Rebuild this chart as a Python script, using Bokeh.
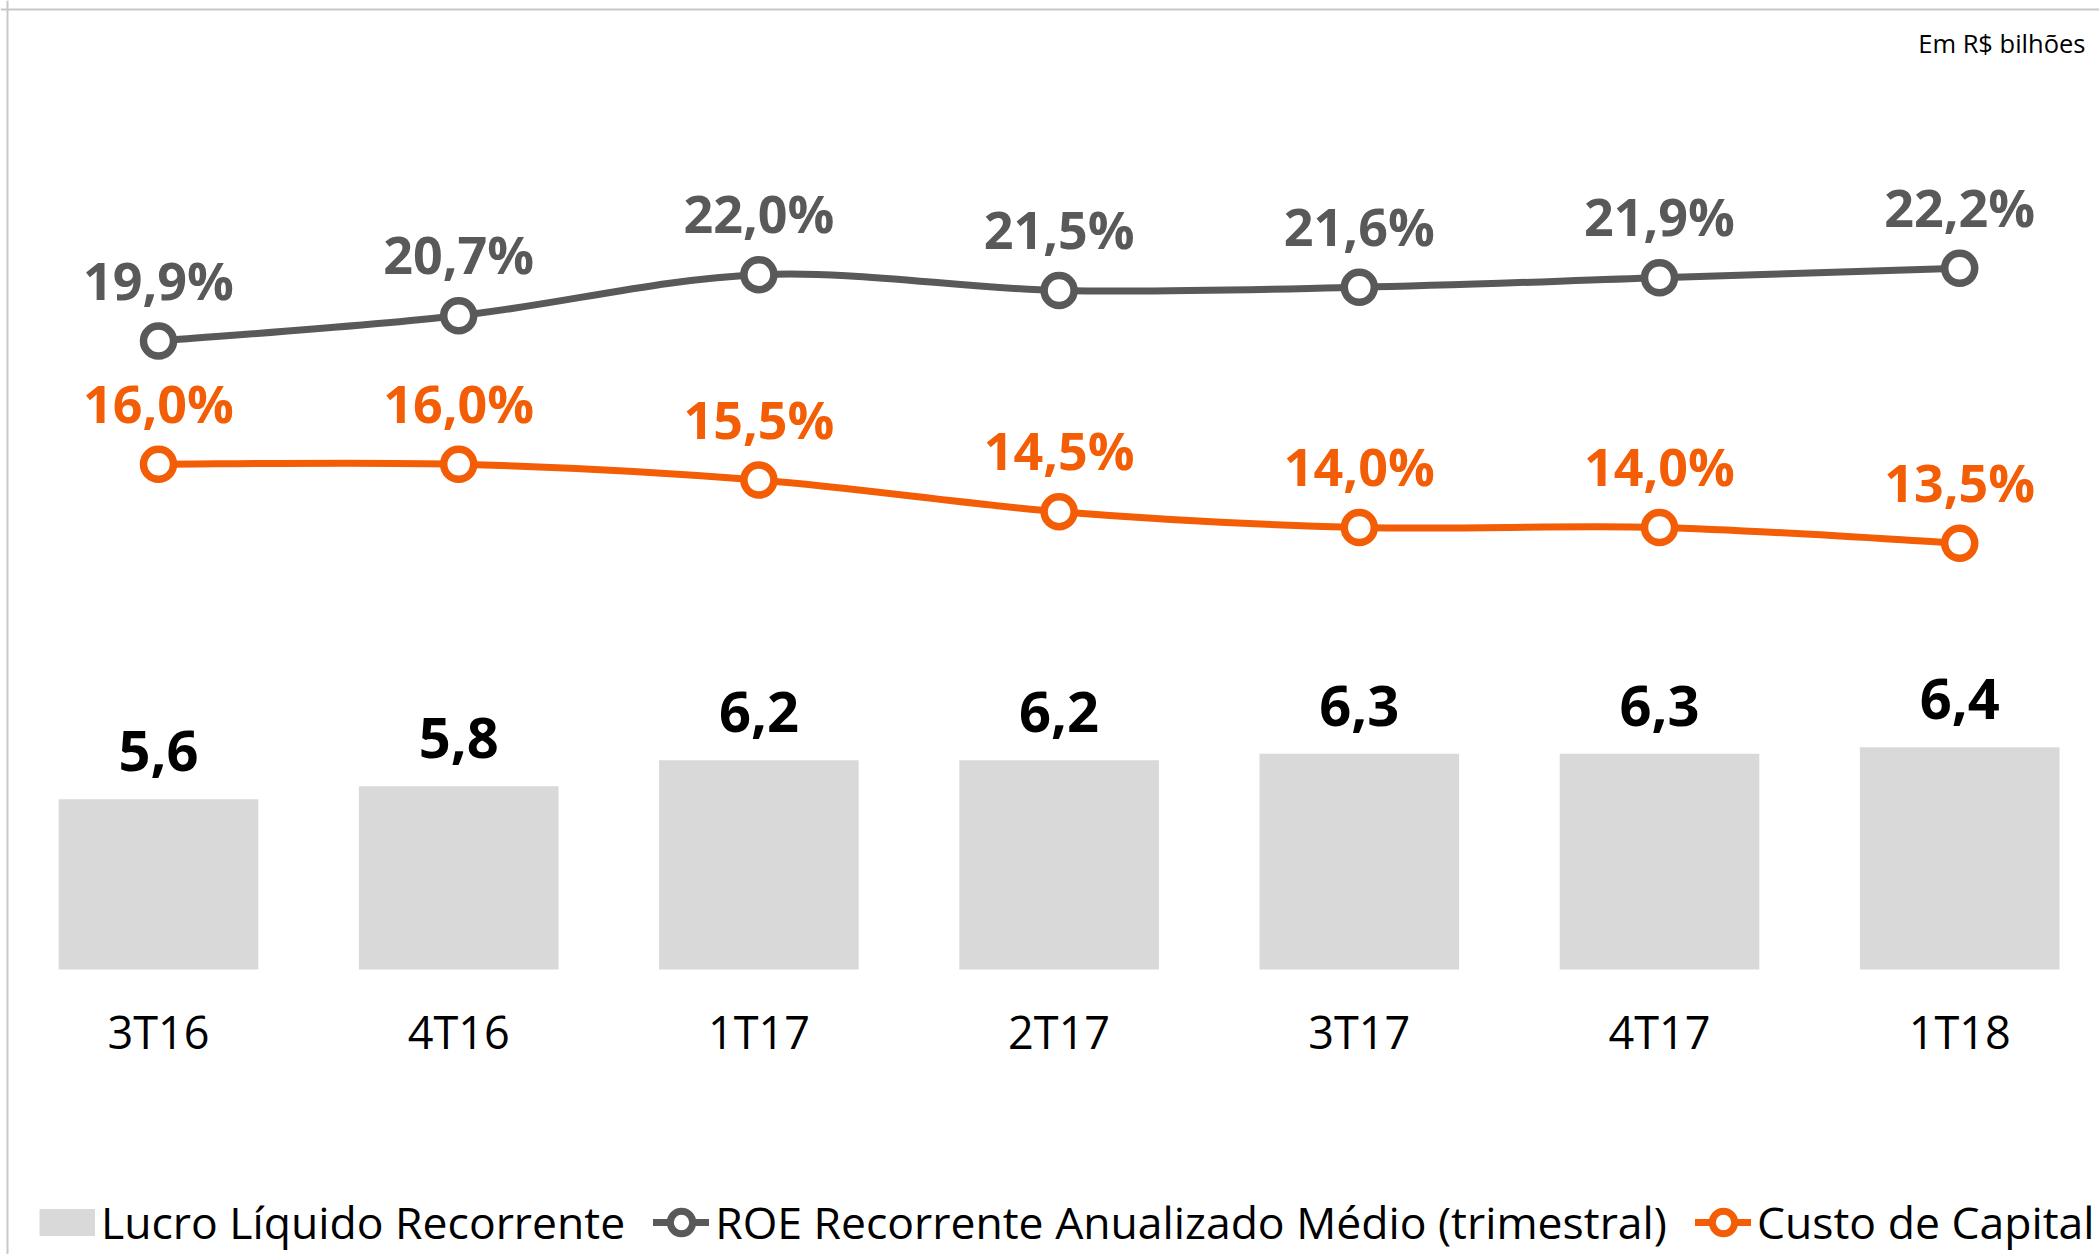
import numpy as np
from bokeh.plotting import figure
from bokeh.models import Range1d, Span, Label, Legend, LegendItem, ColumnDataSource
from bokeh.core.properties import value
from bokeh.embed import file_html
from bokeh.resources import INLINE

# ---------------- data ----------------
categories = ["3T16", "4T16", "1T17", "2T17", "3T17", "4T17", "1T18"]
lucro = [5.6, 5.8, 6.2, 6.2, 6.3, 6.3, 6.4]
lucro_labels = ["5,6", "5,8", "6,2", "6,2", "6,3", "6,3", "6,4"]
roe = [19.9, 20.7, 22.0, 21.5, 21.6, 21.9, 22.2]
roe_labels = ["19,9%", "20,7%", "22,0%", "21,5%", "21,6%", "21,9%", "22,2%"]
custo = [16.0, 16.0, 15.5, 14.5, 14.0, 14.0, 13.5]
custo_labels = ["16,0%", "16,0%", "15,5%", "14,5%", "14,0%", "14,0%", "13,5%"]
legend_labels = ["Lucro Líquido Recorrente",
                 "ROE Recorrente Anualizado Médio (trimestral)",
                 "Custo de Capital"]
unit_note = "Em R$ bilhões"

# ---------------- styles / layout ----------------
GRAY = "#595959"
ORANGE = "#F35D05"
BAR = "#D9D9D9"
BORDER = "#C8C8C8"
FONT = "Open Sans"

W, H = 2099, 1254
PX_X = 300.2          # px per category
X0_PX = 158           # canvas x of first category centre
PX_Y = 31.6           # px per percentage point
REF_PX = 340.5        # canvas y of first ROE point
PX_B = 65.1           # px per R$ bn
BAR_BASE = 2.986      # bar baseline value
BASE_PX = 969         # canvas y of bar baseline

x_start = -X0_PX / PX_X
x_end = x_start + W / PX_X
y_top = roe[0] + REF_PX / PX_Y
y_bot = y_top - H / PX_Y
b_top = BAR_BASE + BASE_PX / PX_B
b_bot = b_top - H / PX_B

xs = list(range(len(categories)))
NAN = [float("nan")]

p = figure(width=W, height=H, x_range=Range1d(x_start, x_end),
           y_range=Range1d(y_bot, y_top), output_backend="svg",
           toolbar_location=None, min_border=0,
           x_axis_location=None, y_axis_location=None)
p.extra_y_ranges = {"bars": Range1d(b_bot, b_top)}
p.grid.visible = False
p.outline_line_color = None
p.background_fill_color = "white"
p.border_fill_color = "white"

# frame lines (top and left only visible in the reference)
p.add_layout(Span(location=x_start + 7 / PX_X, dimension="height",
                  line_color=BORDER, line_width=2))
p.add_layout(Span(location=y_top - 9 / PX_Y, dimension="width",
                  line_color=BORDER, line_width=2))

# bars
bar_src = ColumnDataSource(dict(x=xs, top=lucro, lab=lucro_labels, cat=categories,
                                base=[BAR_BASE] * len(xs)))
p.vbar(x="x", top="top", bottom=BAR_BASE, width=0.665, source=bar_src,
       y_range_name="bars", fill_color=BAR, line_color=None)
p.text(x="x", y="top", text="lab", source=bar_src, y_range_name="bars",
       y_offset=-48, text_align="center", text_baseline="alphabetic",
       text_font=value(FONT), text_font_style="bold", text_font_size="56px",
       text_color="black")
p.text(x="x", y="base", text="cat", source=bar_src, y_range_name="bars",
       y_offset=62, text_align="center", text_baseline="alphabetic",
       text_font=value(FONT), text_font_size="45px", text_color="black")


def smooth_segments(ys):
    n = len(ys)
    d = dict(x0=[], y0=[], x1=[], y1=[], cx0=[], cy0=[], cx1=[], cy1=[])
    for i in range(n - 1):
        im1 = max(i - 1, 0)
        ip2 = min(i + 2, n - 1)
        d["x0"].append(xs[i]); d["y0"].append(ys[i])
        d["x1"].append(xs[i + 1]); d["y1"].append(ys[i + 1])
        d["cx0"].append(xs[i] + (xs[i + 1] - xs[im1]) / 6)
        d["cy0"].append(ys[i] + (ys[i + 1] - ys[im1]) / 6)
        d["cx1"].append(xs[i + 1] - (xs[ip2] - xs[i]) / 6)
        d["cy1"].append(ys[i + 1] - (ys[ip2] - ys[i]) / 6)
    return ColumnDataSource(d)


for ys, labs, col in ((roe, roe_labels, GRAY), (custo, custo_labels, ORANGE)):
    p.bezier(x0="x0", y0="y0", x1="x1", y1="y1", cx0="cx0", cy0="cy0",
             cx1="cx1", cy1="cy1", source=smooth_segments(ys),
             line_color=col, line_width=7, line_cap="round")
    src = ColumnDataSource(dict(x=xs, y=ys, lab=labs))
    p.scatter(x="x", y="y", source=src, size=30, marker="circle",
              fill_color="white", line_color=col, line_width=7.5)
    p.text(x="x", y="y", text="lab", source=src, y_offset=-62,
           text_align="center", text_baseline="alphabetic",
           text_font=value(FONT), text_font_style="bold",
           text_font_size="52px", text_color=col)

# legend-only renderers (single NaN point: nothing drawn in the plot)
lg_bar = p.line(x=NAN, y=NAN, line_color=BAR, line_width=27, line_cap="butt")
lg_roe_l = p.line(x=NAN, y=NAN, line_color=GRAY, line_width=7, line_cap="round")
lg_roe_m = p.scatter(x=NAN, y=NAN, marker="circle", fill_color="white",
                     line_color=GRAY, line_width=7)
lg_cus_l = p.line(x=NAN, y=NAN, line_color=ORANGE, line_width=7, line_cap="round")
lg_cus_m = p.scatter(x=NAN, y=NAN, marker="circle", fill_color="white",
                     line_color=ORANGE, line_width=7)

legend = Legend(items=[
    LegendItem(label=legend_labels[0], renderers=[lg_bar]),
    LegendItem(label=legend_labels[1], renderers=[lg_roe_l, lg_roe_m]),
    LegendItem(label=legend_labels[2], renderers=[lg_cus_l, lg_cus_m]),
], orientation="horizontal", location=(39, 2), glyph_width=56,
    glyph_height=60, label_height=60, label_standoff=6, spacing=28,
    padding=0, margin=0, border_line_color=None, background_fill_alpha=0,
    label_text_font=FONT, label_text_font_size="44.5px",
    label_text_color="black")
p.add_layout(legend)

p.add_layout(Label(x=x_start + 2085 / PX_X, y=y_top - 42 / PX_Y,
                   text=unit_note, text_align="right",
                   text_baseline="alphabetic", text_font=FONT,
                   text_font_size="25.5px", text_color="black"))

open("out.html", "w").write(file_html(p, INLINE))
